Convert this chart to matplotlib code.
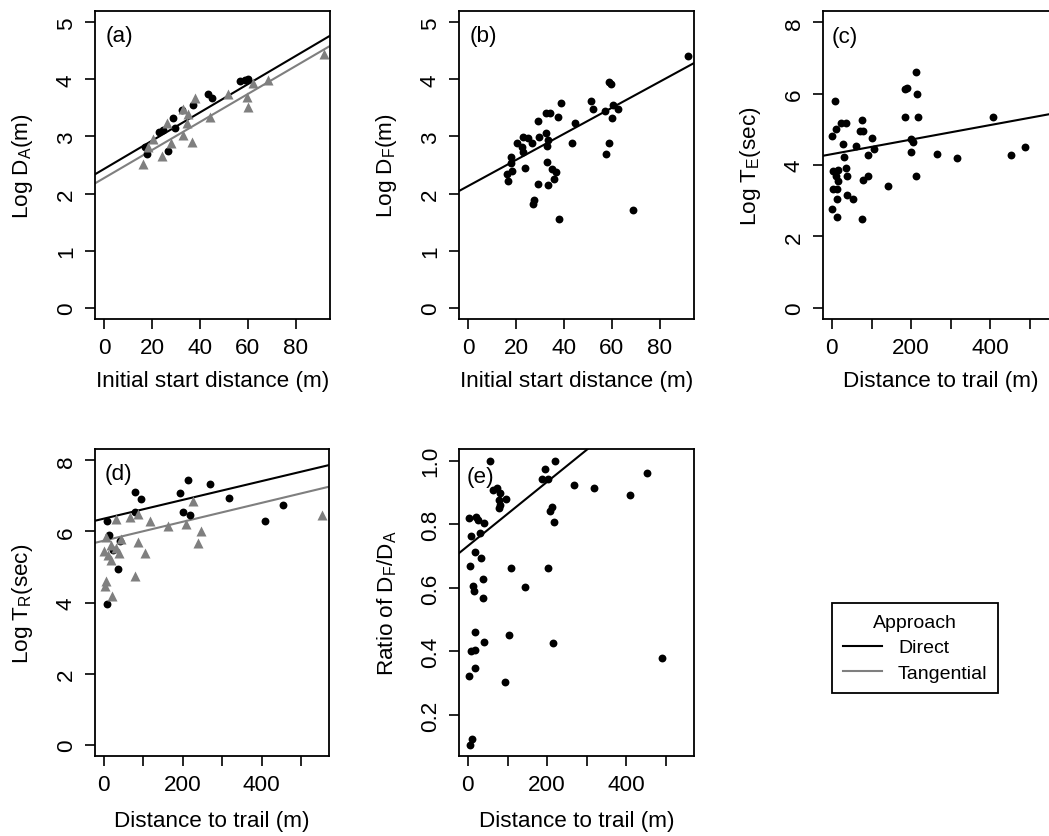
import matplotlib
matplotlib.use('Agg')
import matplotlib.pyplot as plt
from matplotlib.lines import Line2D
from matplotlib.ticker import FormatStrFormatter

plt.rcParams['font.family'] = ['Liberation Sans', 'DejaVu Sans']
plt.rcParams['mathtext.fontset'] = 'custom'
plt.rcParams['mathtext.rm'] = 'Liberation Sans'

GRAY = '#7F7F7F'

# (a) Log D_A vs initial start distance
a_dir_x = [17.1, 18.0, 26.8, 22.9, 24.7, 29.6, 28.9, 32.6, 37.2, 43.5, 44.9, 56.7, 58.8, 60.1]
a_dir_y = [2.82, 2.69, 2.74, 3.08, 3.12, 3.14, 3.32, 3.46, 3.55, 3.74, 3.68, 3.98, 3.99, 4.00]
a_tan_x = [16.4, 18.5, 20.5, 24.0, 27.9, 33.0, 36.5, 26.1, 34.4, 33.0, 35.1, 37.9, 44.2, 51.8,
           59.5, 59.9, 62.2, 68.5, 91.8]
a_tan_y = [2.51, 2.82, 2.96, 2.65, 2.88, 3.02, 2.91, 3.23, 3.23, 3.49, 3.40, 3.67, 3.35, 3.75,
           3.70, 3.51, 3.93, 3.99, 4.44]
a_fit_dir = (2.43, 0.0248)
a_fit_tan = (2.27, 0.0246)

# (b) Log D_F vs initial start distance
b_x = [91.8, 58.8, 59.7, 38.8, 51.1, 52.2, 57.1, 60.3, 62.4, 60.1, 32.4, 34.2, 37.6, 29.0,
       44.6, 32.4, 29.7, 23.1, 25.1, 20.5, 22.4, 26.5, 33.2, 32.8, 23.1, 43.2, 17.8, 17.9,
       18.5, 16.1, 16.8, 23.8, 33.0, 34.9, 36.5, 36.0, 29.3, 33.5, 27.6, 26.9, 37.9, 68.9,
       57.5, 58.8]
b_y = [4.41, 3.96, 3.92, 3.58, 3.63, 3.49, 3.44, 3.55, 3.49, 3.33, 3.42, 3.42, 3.35, 3.27,
       3.23, 3.06, 2.99, 2.99, 2.98, 2.88, 2.82, 2.88, 2.94, 2.84, 2.72, 2.88, 2.64, 2.54,
       2.39, 2.35, 2.22, 2.44, 2.56, 2.43, 2.38, 2.25, 2.16, 2.15, 1.88, 1.82, 1.55, 1.71,
       2.70, 2.89]
b_fit = (2.13, 0.0229)

# (c) Log T_E vs distance to trail
c_x = [7.6, 0.0, 9.4, 22.0, 34.7, 28.6, 30.4, 60.8, 76.7, 70.9, 79.2, 102.0, 106.0, 91.9,
       2.5, 15.2, 9.4, 16.0, 36.2, 38.7, 3.3, 11.9, 38.7, 53.9, 13.4, 0.0, 13.4, 76.7, 78.5,
       91.1, 141.8, 184.0, 190.6, 213.4, 216.0, 184.0, 217.7, 199.2, 204.3, 200.8, 211.9,
       266.6, 315.7, 407.6, 451.4, 487.8]
c_y = [5.79, 4.81, 5.01, 5.17, 5.19, 4.58, 4.22, 4.53, 5.26, 4.94, 4.94, 4.77, 4.45, 4.28,
       3.84, 3.87, 3.70, 3.54, 3.91, 3.68, 3.32, 3.32, 3.16, 3.04, 3.04, 2.76, 2.55, 2.48, 3.58,
       3.68, 3.40, 6.14, 6.17, 6.61, 5.98, 5.35, 5.35, 4.73, 4.64, 4.36, 3.68,
       4.31, 4.20, 5.36, 4.27, 4.51]
c_fit = (4.305, 0.00204)

# (d) Log T_R vs distance to trail
d_dir_x = [8.6, 12.7, 22.9, 40.0, 35.7, 8.6, 78.2, 93.5, 80.0, 192.9, 214.0, 269.3, 199.7,
           218.3, 317.7, 409.4, 453.5]
d_dir_y = [6.30, 5.91, 5.49, 5.72, 4.95, 3.95, 7.10, 6.92, 6.54, 7.08, 7.44, 7.34, 6.55,
           6.47, 6.94, 6.30, 6.75]
d_tan_x = [6.1, 31.6, 0.0, 10.2, 17.1, 18.8, 37.5, 44.3, 6.1, 3.6, 20.4, 67.3, 86.6, 116.4,
           86.6, 103.7, 80.0, 161.5, 208.2, 226.8, 246.4, 239.5, 552.0, 31.6]
d_tan_y = [5.85, 6.36, 5.44, 5.35, 5.19, 5.63, 5.40, 5.79, 4.60, 4.46, 4.18, 6.41, 6.50, 6.30,
           5.70, 5.40, 4.74, 6.16, 6.21, 6.87, 6.00, 5.68, 6.45, 5.54]
d_fit_dir = (6.36, 0.00264)
d_fit_tan = (5.74, 0.00266)

# (e) Ratio D_F/D_A vs distance to trail
e_x = [56.5, 219.0, 194.0, 187.0, 202.5, 453.0, 268.4, 318.0, 408.4, 62.3, 73.4, 80.0, 79.3,
       80.0, 79.7, 96.2, 212.6, 206.6, 218.5, 1.6, 20.2, 25.3, 41.3, 7.6, 29.4, 16.7, 32.9,
       5.8, 108.9, 201.5, 38.0, 11.6, 16.0, 38.0, 145.0, 18.5, 7.6, 16.7, 41.3, 102.8, 214.2,
       18.5, 1.6, 94.4, 491.0, 10.1, 4.1]
e_y = [1.0, 1.0, 0.974, 0.942, 0.942, 0.96, 0.924, 0.913, 0.892, 0.908, 0.913, 0.898, 0.877,
       0.862, 0.850, 0.880, 0.853, 0.841, 0.806, 0.820, 0.824, 0.813, 0.803, 0.764, 0.772,
       0.714, 0.693, 0.670, 0.662, 0.663, 0.628, 0.607, 0.589, 0.568, 0.604, 0.462, 0.402,
       0.405, 0.431, 0.452, 0.426, 0.349, 0.324, 0.303, 0.379, 0.125, 0.106]
e_fit = (0.732, 0.001008)

W, H = 1049, 837
fig = plt.figure(figsize=(W / 100, H / 100), dpi=100)


def make_ax(left, top, right, bottom):
    return fig.add_axes([left / W, 1 - bottom / H, (right - left) / W, (bottom - top) / H])


ax_a = make_ax(95, 12, 330, 320)
ax_b = make_ax(459, 12, 694, 320)
ax_c = make_ax(823, 12, 1058, 320)
ax_d = make_ax(95, 450, 329, 757)
ax_e = make_ax(459, 450, 694, 757)

DOT = 32
TRI = 52

ax_a.scatter(a_dir_x, a_dir_y, s=DOT, c='black', marker='o', lw=0, zorder=3)
ax_a.scatter(a_tan_x, a_tan_y, s=TRI, c=GRAY, marker='^', lw=0, zorder=3)
ax_a.axline((0, a_fit_dir[0]), slope=a_fit_dir[1], color='black', lw=1.5)
ax_a.axline((0, a_fit_tan[0]), slope=a_fit_tan[1], color=GRAY, lw=1.5)

ax_b.scatter(b_x, b_y, s=DOT, c='black', marker='o', lw=0, zorder=3)
ax_b.axline((0, b_fit[0]), slope=b_fit[1], color='black', lw=1.5)

ax_c.scatter(c_x, c_y, s=DOT, c='black', marker='o', lw=0, zorder=3)
ax_c.axline((0, c_fit[0]), slope=c_fit[1], color='black', lw=1.5)

ax_d.scatter(d_dir_x, d_dir_y, s=DOT, c='black', marker='o', lw=0, zorder=3)
ax_d.scatter(d_tan_x, d_tan_y, s=TRI, c=GRAY, marker='^', lw=0, zorder=3)
ax_d.axline((0, d_fit_dir[0]), slope=d_fit_dir[1], color='black', lw=1.5)
ax_d.axline((0, d_fit_tan[0]), slope=d_fit_tan[1], color=GRAY, lw=1.5)

ax_e.scatter(e_x, e_y, s=DOT, c='black', marker='o', lw=0, zorder=3)
ax_e.axline((0, e_fit[0]), slope=e_fit[1], color='black', lw=1.5)

FS = 16.2
for ax in [ax_a, ax_b]:
    ax.set_xlim(-3.75, 94.2)
    ax.set_ylim(-0.2, 5.2)
    ax.set_xticks([0, 20, 40, 60, 80])
    ax.set_yticks([0, 1, 2, 3, 4, 5])
    ax.set_xlabel('Initial start distance (m)', fontsize=FS)

for ax in [ax_c, ax_d, ax_e]:
    ax.set_xlim(-22.5, 571)
    ax.set_xticks([0, 100, 200, 300, 400, 500])
    ax.set_xticklabels(['0', '', '200', '', '400', ''])
    ax.set_xlabel('Distance to trail (m)', fontsize=FS)

for ax in [ax_c, ax_d]:
    ax.set_ylim(-0.32, 8.32)
    ax.set_yticks([0, 2, 4, 6, 8])

ax_e.set_ylim(0.071, 1.037)
ax_e.set_yticks([0.2, 0.4, 0.6, 0.8, 1.0])
ax_e.yaxis.set_major_formatter(FormatStrFormatter('%.1f'))

ax_a.set_ylabel(r'Log D$_\mathregular{A}$(m)', fontsize=FS)
ax_b.set_ylabel(r'Log D$_\mathregular{F}$(m)', fontsize=FS)
ax_c.set_ylabel(r'Log T$_\mathregular{E}$(sec)', fontsize=FS)
ax_d.set_ylabel(r'Log T$_\mathregular{R}$(sec)', fontsize=FS)
ax_e.set_ylabel(r'Ratio of D$_\mathregular{F}$/D$_\mathregular{A}$', fontsize=FS)

panel_labels = [(ax_a, '(a)', 0.047, 0.955), (ax_b, '(b)', 0.047, 0.955),
                (ax_c, '(c)', 0.037, 0.950), (ax_d, '(d)', 0.040, 0.955),
                (ax_e, '(e)', 0.033, 0.945)]
for ax, lab, lx, ly in panel_labels:
    ax.text(lx, ly, lab, transform=ax.transAxes, fontsize=FS, ha='left', va='top')

for ax in [ax_a, ax_b, ax_c, ax_d, ax_e]:
    for sp in ax.spines.values():
        sp.set_linewidth(1.3)
    ax.tick_params(direction='out', length=7, width=1.2, labelsize=FS)
    ax.tick_params(axis='x', pad=6)
    ax.tick_params(axis='y', pad=6)
    for t in ax.get_yticklabels():
        t.set_rotation(90)
        t.set_va('center')
    ax.yaxis.set_label_coords(-0.255, 0.5)

ax_a.xaxis.set_label_coords(0.5, -0.165)
ax_b.xaxis.set_label_coords(0.5, -0.165)
ax_c.xaxis.set_label_coords(0.5, -0.165)
ax_d.xaxis.set_label_coords(0.5, -0.175)
ax_e.xaxis.set_label_coords(0.5, -0.175)

handles = [Line2D([], [], color='black', lw=1.5), Line2D([], [], color=GRAY, lw=1.5)]
leg = fig.legend(handles, ['Direct', 'Tangential'], title='Approach',
                 loc='upper left', bbox_to_anchor=(832 / W, 1 - 604 / H),
                 borderaxespad=0, fontsize=14, title_fontsize=14, frameon=True,
                 fancybox=False, edgecolor='black', framealpha=1, handlelength=2.0,
                 handletextpad=0.85, labelspacing=0.42, borderpad=0.55)
leg.get_frame().set_linewidth(1.3)

fig.savefig('out.png', dpi=100)
